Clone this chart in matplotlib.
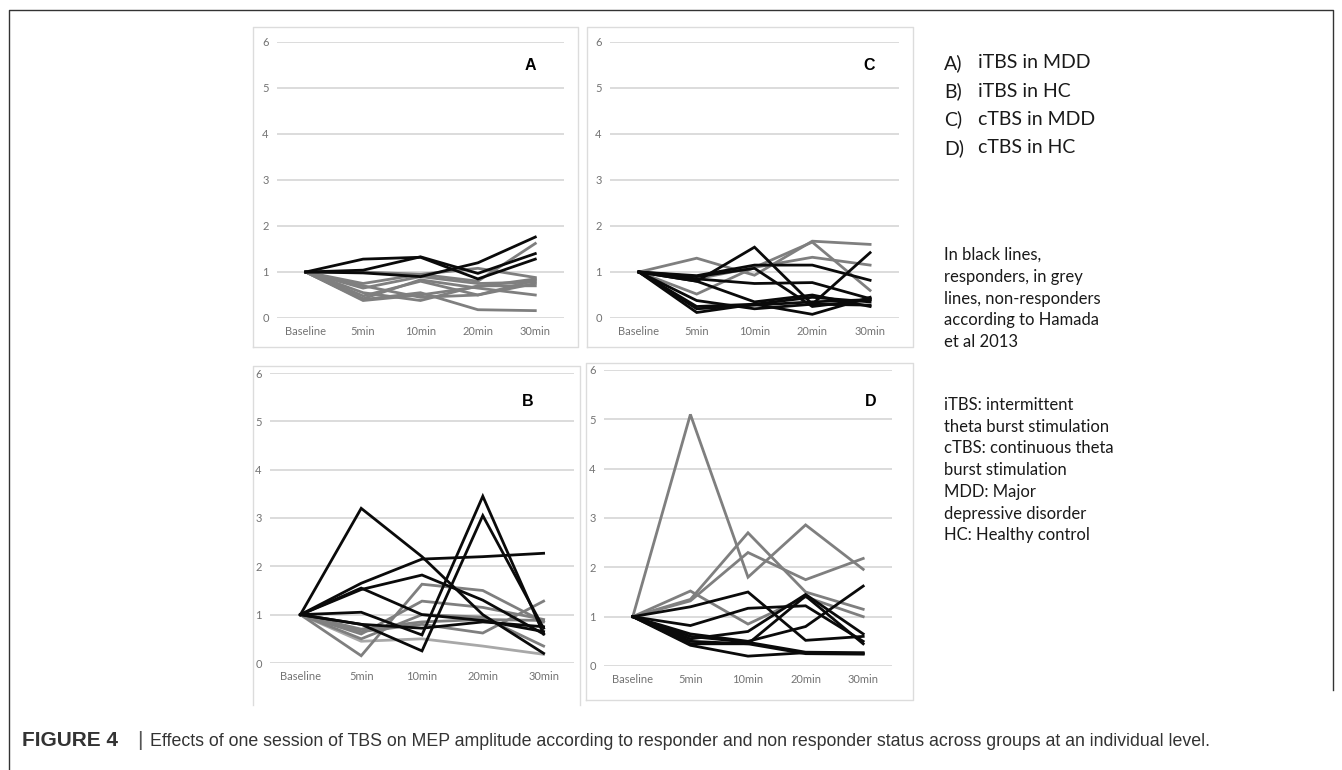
import matplotlib
matplotlib.use("Agg")
import matplotlib.pyplot as plt
from matplotlib.lines import Line2D

W, H = 1342, 770

times = ["Baseline", "5min", "10min", "20min", "30min"]

# panel A: iTBS in MDD
a_black = [
    [1, 1.28, 1.32, 0.85, 1.28],
    [1, 1.04, 1.33, 0.97, 1.40],
    [1, 0.98, 0.90, 1.20, 1.76],
]
a_grey = [
    [1, 1.00, 0.95, 1.08, 0.88],
    [1, 0.75, 0.95, 0.80, 1.62],
    [1, 0.48, 0.80, 0.50, 0.82],
    [1, 0.40, 0.55, 0.18, 0.16],
    [1, 0.42, 0.83, 0.65, 0.50],
    [1, 0.70, 0.45, 0.50, 0.75],
    [1, 0.55, 0.38, 0.70, 0.70],
    [1, 0.65, 0.90, 0.75, 0.78],
    [1, 0.38, 0.50, 0.68, 0.85],
]

# panel C: cTBS in MDD
c_black = [
    [1, 0.80, 1.54, 0.30, 1.42],
    [1, 0.90, 1.08, 0.25, 0.40],
    [1, 0.92, 1.15, 1.15, 0.82],
    [1, 0.85, 0.75, 0.77, 0.42],
    [1, 0.12, 0.30, 0.08, 0.45],
    [1, 0.25, 0.30, 0.45, 0.35],
    [1, 0.38, 0.20, 0.30, 0.28],
    [1, 0.80, 0.35, 0.50, 0.25],
    [1, 0.20, 0.28, 0.35, 0.40],
]
c_grey = [
    [1, 1.30, 0.93, 1.67, 1.60],
    [1, 0.52, 1.10, 1.65, 0.60],
    [1, 0.85, 1.10, 1.32, 1.15],
]

# panel B: iTBS in HC
b_black = [
    [1, 3.20, 2.20, 1.00, 0.20],
    [1, 1.65, 2.15, 2.20, 2.27],
    [1, 1.52, 1.82, 1.30, 0.60],
    [1, 1.55, 1.00, 0.88, 0.65],
    [1, 1.05, 0.58, 3.45, 0.60],
    [1, 0.80, 0.25, 3.05, 0.72],
    [1, 0.80, 0.72, 0.85, 0.75],
]
b_grey = [
    [1, 0.15, 1.63, 1.50, 0.85],
    [1, 0.60, 1.28, 1.15, 0.90],
    [1, 0.65, 0.80, 0.62, 1.28],
    [1, 0.50, 1.00, 0.95, 0.35],
    [1, 0.70, 0.85, 0.90, 0.88],
]
b_lightgrey = [
    [1, 0.45, 0.50, 0.35, 0.18],
]

# panel D: cTBS in HC
d_black = [
    [1, 1.20, 1.50, 0.52, 0.60],
    [1, 0.82, 1.17, 1.22, 0.50],
    [1, 0.65, 0.50, 0.80, 1.62],
    [1, 0.55, 0.70, 1.45, 0.65],
    [1, 0.50, 0.45, 1.42, 0.45],
    [1, 0.42, 0.20, 0.27, 0.25],
    [1, 0.45, 0.45, 0.25, 0.24],
    [1, 0.60, 0.48, 0.28, 0.27],
]
d_grey = [
    [1, 5.10, 1.80, 2.86, 1.96],
    [1, 1.35, 2.70, 1.50, 1.15],
    [1, 1.32, 2.30, 1.75, 2.18],
    [1, 1.52, 0.85, 1.40, 1.00],
]

yticks = [0, 1, 2, 3, 4, 5, 6]

BLACK = "#0a0a0a"
GREY = "#7f7f7f"
LIGHT = "#a8a8a8"
TICKC = "#737373"
GRIDC = "#d9d9d9"

fig = plt.figure(figsize=(W / 100, H / 100), dpi=100)


def fx(x):
    return x / W


def fy(y):
    return 1 - y / H


def box(x0, y0, x1, y1, bottom=True):
    pts = [(x0, y1), (x0, y0), (x1, y0), (x1, y1)]
    if bottom:
        pts.append((x0, y1))
    xs = [fx(p[0]) for p in pts]
    ys = [fy(p[1]) for p in pts]
    fig.add_artist(Line2D(xs, ys, color="#dcdcdc", lw=1.0))


def panel(x0, x1, ytop, ybot, letter, lpos, groups):
    ax = fig.add_axes([fx(x0), fy(ybot), fx(x1 - x0), (ybot - ytop) / H])
    for series, color in groups:
        for s in series:
            ax.plot(range(len(times)), s, color=color, lw=2.0,
                    solid_joinstyle="miter")
    ax.set_xlim(-0.5, len(times) - 0.5)
    ax.set_ylim(0, 6)
    ax.set_yticks(yticks)
    ax.set_xticks(range(len(times)))
    ax.set_xticklabels(times)
    ax.grid(axis="y", color=GRIDC, lw=1.3)
    ax.set_axisbelow(True)
    for sp in ax.spines.values():
        sp.set_visible(False)
    ax.tick_params(length=0, labelsize=8, labelcolor=TICKC, pad=6)
    for lab in ax.get_xticklabels() + ax.get_yticklabels():
        lab.set_family("Lato")
    fig.text(fx(lpos[0]), fy(lpos[1]), letter, fontsize=11.5,
             fontweight="bold", family="Liberation Sans", ha="center",
             va="center")
    ax.patch.set_alpha(0)
    return ax


box(253, 27, 578, 347)
box(587, 27, 913, 347)
box(253, 366, 580, 705, bottom=False)
box(586, 363, 913, 700)

panel(277, 564, 42, 318, "A", (530, 65), [(a_grey, GREY), (a_black, BLACK)])
panel(610, 899, 42, 318, "C", (869, 65), [(c_grey, GREY), (c_black, BLACK)])
panel(270, 574, 373, 663, "B", (528, 402),
      [(b_lightgrey, LIGHT), (b_grey, GREY), (b_black, BLACK)])
panel(604, 892, 370, 666, "D", (871, 402), [(d_grey, GREY), (d_black, BLACK)])

# outer frame
fig.add_artist(Line2D([fx(9), fx(9), fx(1333), fx(1333)],
                      [fy(770), fy(10), fy(10), fy(690)],
                      color="#333333", lw=1.0))

# side notes
legend_keys = ["A)", "B)", "C)", "D)"]
legend_text = ["iTBS in MDD", "iTBS in HC", "cTBS in MDD", "cTBS in HC"]
for i, (k, t) in enumerate(zip(legend_keys, legend_text)):
    fig.text(fx(944), fy(63 + i * 28.3), k, fontsize=14, family="Lato",
             color="#1a1a1a", va="center", ha="left")
    fig.text(fx(978), fy(63 + i * 28.3), t, fontsize=14, family="Lato",
             color="#1a1a1a", va="center", ha="left")

note1 = ["In black lines,", "responders, in grey", "lines, non-responders",
         "according to Hamada", "et al 2013"]
for i, t in enumerate(note1):
    fig.text(fx(944), fy(255 + i * 21.8), t, fontsize=12, family="Lato",
             color="#1a1a1a", va="center", ha="left")

note2 = ["iTBS: intermittent", "theta burst stimulation",
         "cTBS: continuous theta", "burst stimulation", "MDD: Major",
         "depressive disorder", "HC: Healthy control"]
for i, t in enumerate(note2):
    fig.text(fx(944), fy(405 + i * 21.7), t, fontsize=12, family="Lato",
             color="#1a1a1a", va="center", ha="left")

# caption
fig.text(fx(22), fy(741), "FIGURE 4", fontsize=15, fontweight="bold",
         family="Liberation Sans", color="#333333", va="center", ha="left")
fig.text(fx(137), fy(740), "|", fontsize=15, family="Liberation Sans",
         color="#555555", va="center", ha="left")
fig.text(fx(150), fy(741),
         "Effects of one session of TBS on MEP amplitude according to "
         "responder and non responder status across groups at an "
         "individual level.",
         fontsize=12.8, family="Liberation Sans", color="#333333",
         va="center", ha="left")

fig.savefig("out.png", dpi=100)
